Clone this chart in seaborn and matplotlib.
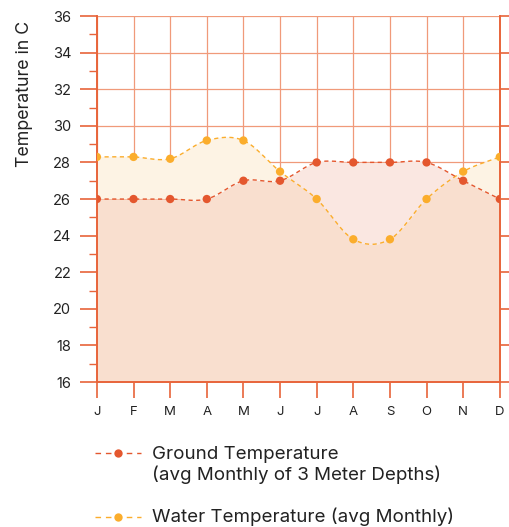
import numpy as np
import matplotlib.pyplot as plt
import seaborn as sns
from matplotlib.lines import Line2D
from matplotlib.ticker import MultipleLocator

months = ['J', 'F', 'M', 'A', 'M', 'J', 'J', 'A', 'S', 'O', 'N', 'D']
ground = [26, 26, 26, 26, 27, 27, 28, 28, 28, 28, 27, 26]
water = [28.3, 28.3, 28.2, 29.2, 29.2, 27.5, 26, 23.8, 23.8, 26, 27.5, 28.3]

ground_label = 'Ground Temperature\n(avg Monthly of 3 Meter Depths)'
water_label = 'Water Temperature (avg Monthly)'

c_ground = '#e4572e'
c_water = '#fbad2c'
c_grid = '#f09a7a'
c_spine = '#e8643a'


def catmull_rom(y, n=40):
    # smooth curve through equally spaced points (cardinal spline, tension 0)
    y = np.asarray(y, dtype=float)
    k = len(y)
    m = np.zeros(k)
    m[1:-1] = (y[2:] - y[:-2]) / 2
    m[0] = y[1] - y[0]
    m[-1] = y[-1] - y[-2]
    xs, ys = [], []
    for i in range(k - 1):
        t = np.linspace(0, 1, n, endpoint=(i == k - 2))
        h00 = 2 * t**3 - 3 * t**2 + 1
        h10 = t**3 - 2 * t**2 + t
        h01 = -2 * t**3 + 3 * t**2
        h11 = t**3 - t**2
        xs.append(i + t)
        ys.append(h00 * y[i] + h10 * m[i] + h01 * y[i + 1] + h11 * m[i + 1])
    return np.concatenate(xs), np.concatenate(ys)


sns.set_style('white')
plt.rcParams['font.family'] = ['Inter', 'DejaVu Sans']

fig = plt.figure(figsize=(5.1, 5.27), dpi=100)
ax = fig.add_axes([0.190, 0.2751, 0.790, 0.6945])

x = np.arange(len(months))
gx, gy = catmull_rom(ground)
wx, wy = catmull_rom(water)

# fills
low = np.minimum(gy, wy)
ax.fill_between(gx, 16, low, color='#f9dfcf', lw=0, zorder=1)
ax.fill_between(gx, gy, wy, where=wy >= gy, color='#fdf3e4', lw=0, zorder=1, interpolate=True)
ax.fill_between(gx, wy, gy, where=gy >= wy, color='#fae7e1', lw=0, zorder=1, interpolate=True)

# smooth dashed lines
ax.plot(wx, wy, color=c_water, lw=1, dashes=(3, 2.5), zorder=3)
ax.plot(gx, gy, color=c_ground, lw=1, dashes=(3, 2.5), zorder=3)

sns.scatterplot(x=x, y=water, color=c_water, s=36, edgecolor='none', ax=ax, zorder=4)
sns.scatterplot(x=x, y=ground, color=c_ground, s=36, edgecolor='none', ax=ax, zorder=4)

ax.set_xlim(0, 11)
ax.set_ylim(16, 36)
ax.set_xticks(x)
ax.set_xticklabels(months)
ax.yaxis.set_major_locator(MultipleLocator(2))
ax.yaxis.set_minor_locator(MultipleLocator(1))

ax.grid(True, which='major', color=c_grid, lw=0.9, zorder=2)
for line in ax.get_xgridlines() + ax.get_ygridlines():
    line.set_zorder(2)

for side in ['left', 'right', 'bottom']:
    ax.spines[side].set_color(c_spine)
    ax.spines[side].set_linewidth(1.4)
ax.spines['top'].set_visible(False)

ax.tick_params(axis='y', which='major', length=12.5, width=1.2, color=c_spine,
               labelsize=10.5, pad=6, labelcolor='#222222', left=True, right=True)
ax.tick_params(axis='y', which='minor', length=6, width=1.0, color=c_spine,
               left=True, right=False)
ax.tick_params(axis='x', which='major', length=11.5, width=1.2, color=c_spine,
               labelsize=9.5, pad=6, labelcolor='#222222', bottom=True)

ax.set_xlabel('')
ax.set_ylabel('')
fig.text(25 / 510, 1 - 94 / 527, 'Temperature in C', rotation=90, fontsize=12.8,
         color='#222222', ha='center', va='center')

# legend drawn below the chart
yf1 = 1 - 453 / 527
fig.add_artist(Line2D([95 / 510, 141 / 510], [yf1, yf1], color=c_ground, lw=1,
                      dashes=(4, 3.5), transform=fig.transFigure))
fig.add_artist(Line2D([118 / 510], [yf1], color=c_ground, marker='o', markersize=6,
                      markeredgewidth=0, transform=fig.transFigure))
fig.text(152 / 510, yf1 + 0.014, ground_label, fontsize=13.5, color='#222222',
         va='top', ha='left', linespacing=1.2)

yf2 = 1 - 517 / 527
fig.add_artist(Line2D([95 / 510, 141 / 510], [yf2, yf2], color=c_water, lw=1,
                      dashes=(4, 3.5), transform=fig.transFigure))
fig.add_artist(Line2D([118 / 510], [yf2], color=c_water, marker='o', markersize=6,
                      markeredgewidth=0, transform=fig.transFigure))
fig.text(152 / 510, yf2, water_label, fontsize=13.5, color='#222222',
         va='center', ha='left')

fig.savefig('out.png', dpi=100)
